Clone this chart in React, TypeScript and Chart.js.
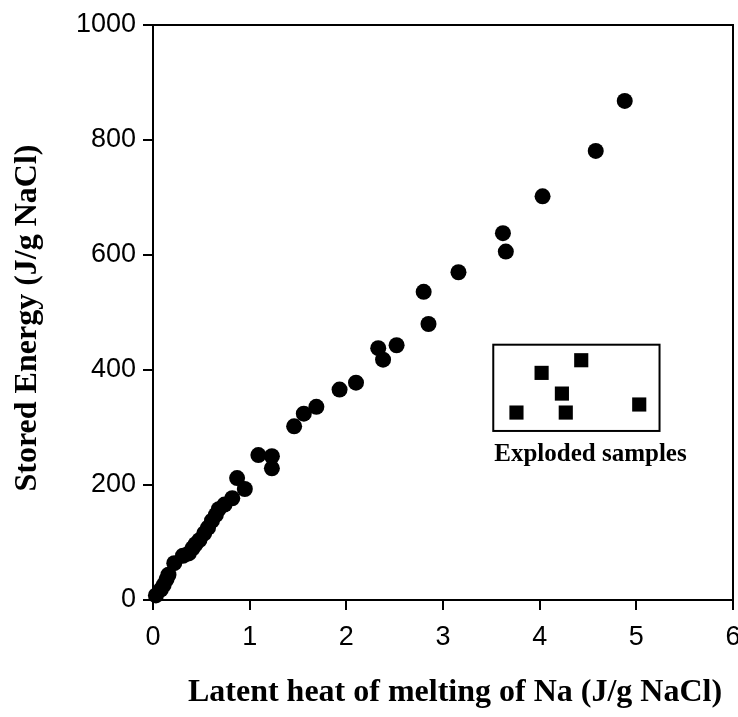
import { useEffect, useRef } from 'react';
import { Chart, registerables } from 'chart.js';

Chart.register(...registerables);

// Normal samples: latent heat of melting of Na (J/g NaCl) vs stored energy (J/g NaCl)
const latentHeat = [
  4.88, 4.58, 4.03, 3.62, 3.65, 3.16, 2.8, 2.85, 2.52, 2.33, 2.38, 2.1, 1.93, 1.69, 1.56, 1.46,
  1.09, 1.23, 1.23, 0.87, 0.95, 0.82, 0.74, 0.68, 0.65, 0.61, 0.57, 0.53, 0.48, 0.44, 0.41, 0.37,
  0.31, 0.22, 0.16, 0.14, 0.11, 0.08, 0.03,
];
const storedEnergy = [
  868, 781, 702, 638, 606, 570, 536, 480, 443, 438, 418, 378, 366, 336, 324, 302,
  252, 250, 229, 212, 193, 177, 166, 158, 148, 138, 126, 116, 104, 97, 90, 81,
  77, 64, 44, 36, 26, 18, 8,
];

// Exploded samples
const explodedLatent = [3.76, 4.02, 4.43, 4.23, 4.27, 5.03];
const explodedStored = [326, 395, 417, 359, 326, 340];

const xTicks = [0, 1, 2, 3, 4, 5, 6];
const yTicks = [0, 200, 400, 600, 800, 1000];

const xTitle = 'Latent heat of melting of Na (J/g NaCl)';
const yTitle = 'Stored Energy (J/g NaCl)';
const boxLabel = 'Exploded samples';

const TICK_FONT = '27px "Liberation Sans", Arial, sans-serif';

const decorPlugin = {
  id: 'decor',
  afterDraw(chart: any) {
    const { ctx, chartArea, scales } = chart;
    const xs = scales.x;
    const ys = scales.y;
    ctx.save();
    // top and right frame lines
    ctx.strokeStyle = '#000';
    ctx.lineWidth = 2;
    ctx.beginPath();
    ctx.moveTo(chartArea.left, chartArea.top);
    ctx.lineTo(chartArea.right, chartArea.top);
    ctx.lineTo(chartArea.right, chartArea.bottom);
    ctx.stroke();

    // x tick labels
    ctx.fillStyle = '#000';
    ctx.font = TICK_FONT;
    ctx.textAlign = 'center';
    ctx.textBaseline = 'middle';
    xTicks.forEach((v) => {
      ctx.fillText(String(v), xs.getPixelForValue(v), chartArea.bottom + 38);
    });

    // box around exploded samples
    const bx0 = xs.getPixelForValue(3.52);
    const bx1 = xs.getPixelForValue(5.24);
    const by0 = ys.getPixelForValue(444);
    const by1 = ys.getPixelForValue(294);
    ctx.lineWidth = 2;
    ctx.strokeRect(bx0, by0, bx1 - bx0, by1 - by0);

    ctx.font = 'bold 25px "Liberation Serif", "Times New Roman", serif';
    ctx.textAlign = 'left';
    ctx.textBaseline = 'middle';
    ctx.fillText(boxLabel, bx0 + 1, by1 + 24);

    // axis titles
    ctx.font = 'bold 32px "Liberation Serif", "Times New Roman", serif';
    ctx.textAlign = 'center';
    ctx.textBaseline = 'middle';
    ctx.fillText(xTitle, 455, 693);

    ctx.translate(28, 318);
    ctx.rotate(-Math.PI / 2);
    ctx.fillText(yTitle, 0, 0);
    ctx.restore();
  },
};

export default function App() {
  const canvasRef = useRef<HTMLCanvasElement | null>(null);

  useEffect(() => {
    const canvas = canvasRef.current;
    if (!canvas) return;
    const tickFont = { family: '"Liberation Sans", Arial, sans-serif', size: 27 };
    const chart = new Chart(canvas, {
      type: 'scatter',
      data: {
        datasets: [
          {
            label: 'Samples',
            data: latentHeat.map((x, i) => ({ x, y: storedEnergy[i] })),
            backgroundColor: '#000',
            borderColor: '#000',
            borderWidth: 0,
            pointRadius: 8,
            pointHoverRadius: 8,
            pointStyle: 'circle',
            clip: false,
          },
          {
            label: boxLabel,
            data: explodedLatent.map((x, i) => ({ x, y: explodedStored[i] })),
            backgroundColor: '#000',
            borderColor: '#000',
            borderWidth: 0,
            pointRadius: 10,
            pointHoverRadius: 10,
            pointStyle: 'rect',
            clip: false,
          },
        ],
      },
      options: {
        animation: false,
        responsive: false,
        devicePixelRatio: 1,
        layout: { autoPadding: false, padding: { top: 25, right: 5, left: 0, bottom: 0 } },
        plugins: {
          legend: { display: false },
          tooltip: { enabled: false },
          title: { display: false },
        },
        scales: {
          x: {
            type: 'linear',
            min: 0,
            max: 6,
            afterBuildTicks: (s: any) => {
              s.ticks = xTicks.map((v) => ({ value: v }));
            },
            afterFit: (s: any) => {
              s.height = 117;
            },
            ticks: { display: false },
            grid: { drawOnChartArea: false, drawTicks: true, tickLength: 10, color: '#000', lineWidth: 2 },
            border: { color: '#000', width: 2 },
          },
          y: {
            type: 'linear',
            min: 0,
            max: 1000,
            afterBuildTicks: (s: any) => {
              s.ticks = yTicks.map((v) => ({ value: v }));
            },
            afterFit: (s: any) => {
              s.width = 153;
            },
            ticks: { color: '#000', font: tickFont, padding: 7, callback: (v: any) => String(v) },
            grid: { drawOnChartArea: false, drawTicks: true, tickLength: 10, color: '#000', lineWidth: 2 },
            border: { color: '#000', width: 2 },
          },
        },
      },
      plugins: [decorPlugin],
    });
    return () => chart.destroy();
  }, []);

  return (
    <div style={{ position: 'absolute', left: 0, top: 0, width: 738, height: 717, background: '#fff' }}>
      <canvas ref={canvasRef} width={738} height={717} style={{ display: 'block' }} />
    </div>
  );
}
